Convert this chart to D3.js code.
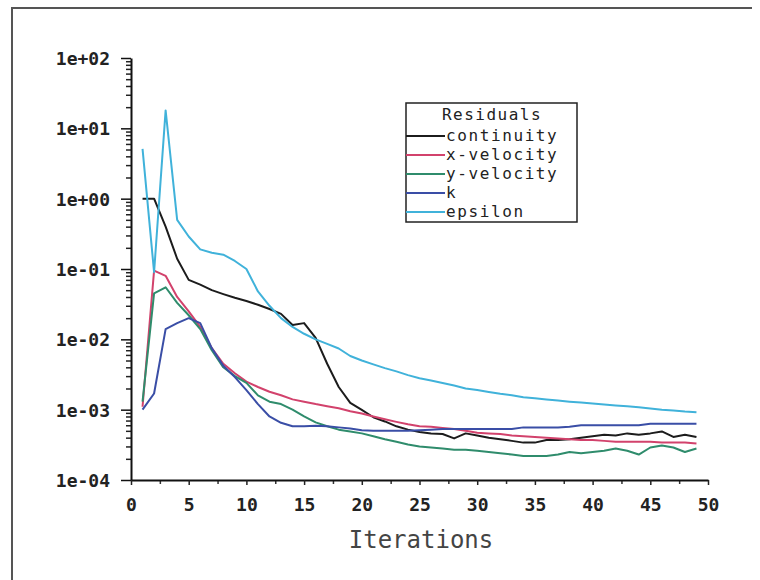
<!DOCTYPE html>
<html>
<head>
<meta charset="utf-8">
<script src="https://cdnjs.cloudflare.com/ajax/libs/d3/7.8.5/d3.min.js"></script>
<style>
  body { margin: 0; background: #fff; }
  text { font-family: "DejaVu Sans Mono", monospace; }
</style>
</head>
<body>
<div id="svg-area"></div>
<script>
// Data
var iterations = [1, 2, 3, 4, 5, 6, 7, 8, 9, 10, 11, 12, 13, 14, 15, 16, 17, 18, 19, 20,
  21, 22, 23, 24, 25, 26, 27, 28, 29, 30, 31, 32, 33, 34, 35, 36, 37, 38, 39, 40,
  41, 42, 43, 44, 45, 46, 47, 48, 49];

var continuity = [1.0, 1.0, 0.4, 0.14, 0.07, 0.06, 0.05, 0.044, 0.039, 0.035,
  0.031, 0.027, 0.023, 0.016, 0.017, 0.0105, 0.0045, 0.0021, 0.00125, 0.00099,
  0.00078, 0.00068, 0.00058, 0.00052, 0.00048, 0.00046, 0.00045, 0.00039, 0.00046, 0.00043,
  0.0004, 0.00038, 0.00036, 0.00034, 0.00034, 0.00037, 0.00037, 0.00038, 0.0004, 0.00042,
  0.00044, 0.00043, 0.00046, 0.00044, 0.00046, 0.00049, 0.00041, 0.00044, 0.00041];

var xVelocity = [0.0011, 0.095, 0.08, 0.04, 0.025, 0.015, 0.0075, 0.0045, 0.0033, 0.0025,
  0.0021, 0.0018, 0.0016, 0.0014, 0.0013, 0.0012, 0.00112, 0.00105, 0.00095, 0.00088,
  0.0008, 0.00073, 0.00067, 0.00062, 0.00058, 0.00057, 0.00055, 0.00053, 0.0005, 0.00047,
  0.00046, 0.00045, 0.00043, 0.00042, 0.00041, 0.0004, 0.00039, 0.00038, 0.00037, 0.00037,
  0.00036, 0.00035, 0.00035, 0.00035, 0.00035, 0.00034, 0.00034, 0.00034, 0.00033];

var yVelocity = [0.0013, 0.045, 0.055, 0.033, 0.022, 0.014, 0.007, 0.004, 0.003, 0.0024,
  0.0016, 0.0013, 0.0012, 0.001, 0.0008, 0.00066, 0.00058, 0.00052, 0.00049, 0.00046,
  0.00042, 0.00038, 0.00035, 0.00032, 0.0003, 0.00029, 0.00028, 0.00027, 0.00027, 0.00026,
  0.00025, 0.00024, 0.00023, 0.00022, 0.00022, 0.00022, 0.00023, 0.00025, 0.00024, 0.00025,
  0.00026, 0.00028, 0.00026, 0.00023, 0.00029, 0.00031, 0.00029, 0.00025, 0.00028];

var kRes = [0.001, 0.0017, 0.014, 0.017, 0.02, 0.017, 0.0075, 0.0042, 0.0029, 0.0019,
  0.0012, 0.0008, 0.00065, 0.00058, 0.00058, 0.00059, 0.00058, 0.00056, 0.00054, 0.00051,
  0.0005, 0.0005, 0.0005, 0.0005, 0.00051, 0.00052, 0.00053, 0.00053, 0.00053, 0.00053,
  0.00053, 0.00053, 0.00053, 0.00056, 0.00056, 0.00056, 0.00056, 0.00057, 0.0006, 0.0006,
  0.0006, 0.0006, 0.0006, 0.0006, 0.00063, 0.00063, 0.00063, 0.00063, 0.00063];

var epsilon = [5.1, 0.09, 18, 0.5, 0.29, 0.19, 0.17, 0.16, 0.13, 0.1,
  0.048, 0.03, 0.02, 0.015, 0.012, 0.01, 0.0086, 0.0074, 0.0058, 0.005,
  0.0044, 0.0039, 0.0035, 0.0031, 0.0028, 0.0026, 0.0024, 0.0022, 0.002, 0.0019,
  0.00178, 0.00168, 0.0016, 0.0015, 0.00145, 0.0014, 0.00135, 0.0013, 0.00126, 0.00122,
  0.00118, 0.00115, 0.00112, 0.00108, 0.00104, 0.001, 0.00097, 0.00094, 0.00092];

var seriesNames = ["continuity", "x-velocity", "y-velocity", "k", "epsilon"];
var seriesValues = [continuity, xVelocity, yVelocity, kRes, epsilon];
var seriesColors = ["#1c1c1c", "#d2426c", "#2f8c6c", "#3a4ea6", "#40b2da"];

var yTickValues = [1e-4, 1e-3, 1e-2, 1e-1, 1e0, 1e1, 1e2];
var yTickLabels = ["1e-04", "1e-03", "1e-02", "1e-01", "1e+00", "1e+01", "1e+02"];
var xTickValues = [0, 5, 10, 15, 20, 25, 30, 35, 40, 45, 50];

// Step 0: set up the svg
var svgWidth = 760;
var svgHeight = 580;
var plot = { left: 131, right: 708, top: 58, bottom: 480 };

var svg = d3.select("#svg-area")
  .append("svg")
  .attr("width", svgWidth)
  .attr("height", svgHeight);

// outer frame (left + top edges)
svg.append("path")
  .attr("d", "M12,580 L12,8 L752,8")
  .attr("fill", "none")
  .attr("stroke", "#555")
  .attr("stroke-width", 2);

// scales
var xScale = d3.scaleLinear().domain([0, 50]).range([plot.left, plot.right]);
var yScale = d3.scaleLog().domain([1e-4, 1e2]).range([plot.bottom, plot.top]);

// minor ticks on the y axis (2..9 of each decade)
var yMinor = [];
yTickValues.slice(0, -1).forEach(function(d) {
  for (var m = 2; m <= 9; m++) yMinor.push(d * m);
});

svg.append("g")
  .attr("transform", "translate(" + plot.left + ",0)")
  .call(d3.axisLeft(yScale).tickValues(yMinor).tickSize(5).tickFormat(""))
  .call(function(g) { g.select(".domain").remove(); })
  .selectAll("line").attr("stroke", "#222").attr("stroke-width", 1.5);

var yAxis = svg.append("g")
  .attr("transform", "translate(" + plot.left + ",0)")
  .call(d3.axisLeft(yScale).tickValues(yTickValues).tickSize(10).tickSizeOuter(0)
    .tickFormat(function(d, i) { return yTickLabels[i]; }));
yAxis.select(".domain").attr("stroke", "#111").attr("stroke-width", 2);
yAxis.selectAll("line").attr("stroke", "#111").attr("stroke-width", 1.5);
yAxis.selectAll("text")
  .attr("x", -21)
  .attr("dy", "0.36em")
  .attr("fill", "#222")
  .attr("font-size", 18)
  .attr("font-weight", "bold")
  .attr("font-family", "DejaVu Sans Mono, monospace");

// x axis: minor ticks every 2.5
var xMinor = [];
for (var t = 2.5; t < 50; t += 5) xMinor.push(t);
svg.append("g")
  .attr("transform", "translate(0," + plot.bottom + ")")
  .call(d3.axisBottom(xScale).tickValues(xMinor).tickSize(4).tickFormat(""))
  .call(function(g) { g.select(".domain").remove(); })
  .selectAll("line").attr("stroke", "#333").attr("stroke-width", 1.5);

var xAxis = svg.append("g")
  .attr("transform", "translate(0," + plot.bottom + ")")
  .call(d3.axisBottom(xScale).tickValues(xTickValues).tickSize(5).tickSizeOuter(0));
xAxis.select(".domain").attr("stroke", "#111").attr("stroke-width", 2);
xAxis.selectAll("line").attr("stroke", "#222").attr("stroke-width", 1.5);
xAxis.selectAll("text")
  .attr("y", 18)
  .attr("dy", "0.71em")
  .attr("fill", "#222")
  .attr("font-size", 18)
  .attr("font-weight", "bold")
  .attr("font-family", "DejaVu Sans Mono, monospace");

// axis title
svg.append("text")
  .attr("x", 421)
  .attr("y", 548)
  .attr("text-anchor", "middle")
  .attr("font-size", 24)
  .attr("fill", "#444")
  .text("Iterations");

// Step 1: draw the residual lines
var line = d3.line()
  .x(function(d, i) { return xScale(iterations[i]); })
  .y(function(d) { return yScale(d); });

seriesValues.forEach(function(vals, s) {
  svg.append("path")
    .datum(vals)
    .attr("d", line)
    .attr("fill", "none")
    .attr("stroke", seriesColors[s])
    .attr("stroke-width", 2)
    .attr("stroke-linejoin", "round");
});

// Step 2: legend
var legend = svg.append("g").attr("transform", "translate(406,103)");
legend.append("rect")
  .attr("width", 171)
  .attr("height", 119)
  .attr("fill", "#fff")
  .attr("stroke", "#222")
  .attr("stroke-width", 1.5);
legend.append("text")
  .attr("x", 86)
  .attr("y", 17)
  .attr("text-anchor", "middle")
  .attr("font-size", 16)
  .attr("letter-spacing", 1.5)
  .attr("fill", "#222")
  .text("Residuals");

seriesNames.forEach(function(name, s) {
  var yy = 33 + s * 19;
  legend.append("line")
    .attr("x1", 0).attr("x2", 39)
    .attr("y1", yy).attr("y2", yy)
    .attr("stroke", seriesColors[s])
    .attr("stroke-width", 2);
  legend.append("text")
    .attr("x", 40)
    .attr("y", yy + 5)
    .attr("font-size", 16)
    .attr("letter-spacing", 1.6)
    .attr("fill", "#222")
    .text(name);
});
</script>
</body>
</html>
